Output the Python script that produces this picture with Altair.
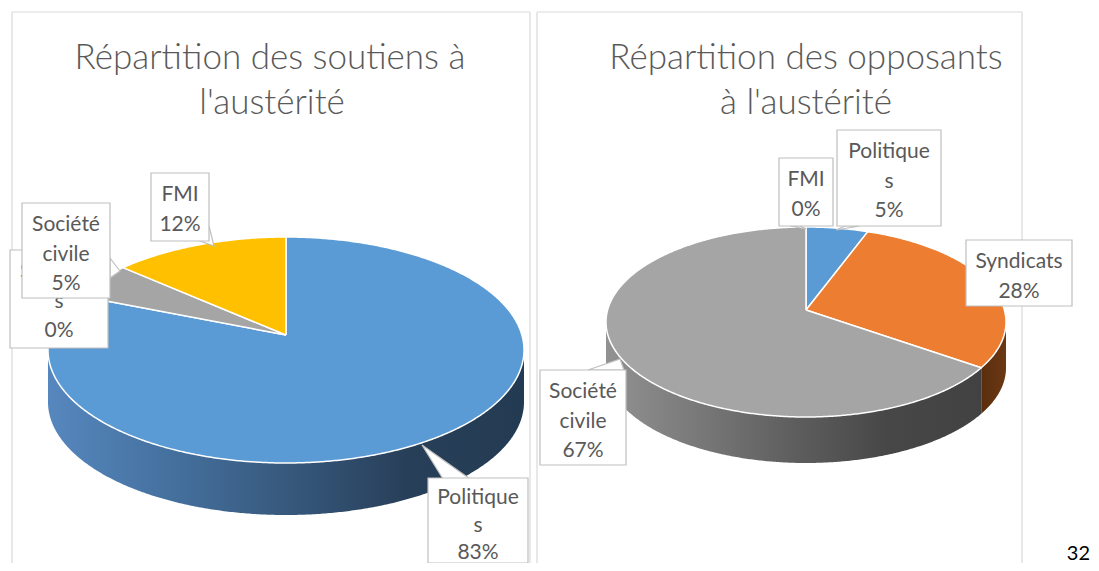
import altair as alt
import pandas as pd
import numpy as np

# ---------------- data ----------------
categories = ["Politiques", "Syndicats", "Société civile", "FMI"]
soutiens = [83, 0, 5, 12]
opposants = [5, 28, 67, 0]
palette = ["#5b9bd5", "#ed7d31", "#a5a5a5", "#ffc000"]

title_soutiens = ["Répartition des soutiens à", "l'austérité"]
title_opposants = ["Répartition des opposants", "à l'austérité"]
page_number = "32"

# ---------------- layout (pixels of the page) ----------------
PIES = {
    "soutiens": dict(values=soutiens, cx=286, cy=350, a=238, b=113, depth=52, apex=-15),
    "opposants": dict(values=opposants, cx=806, cy=322, a=200, b=95, depth=46, apex=-12),
}
WALL_GRADIENTS = {
    ("soutiens", "Politiques"): ["#5687be", "#45719f", "#37597d", "#283f59", "#233b52"],
    ("opposants", "Société civile"): ["#929292", "#787878", "#5e5e5e", "#474747", "#424242"],
    ("opposants", "Syndicats"): ["#5a2d0e", "#5e300f", "#633311", "#673512", "#6b3813"],
}
TITLE_POS = {"soutiens": [(270, 58), (272, 103)], "opposants": [(806, 58), (806, 103)]}
# callout boxes: panel, category, wrapped name lines, box (x1, y1, x2, y2), pointer triangle, tier,
# first line offset, line spacing
LABELS = [
    ("soutiens", "Syndicats", ["Syndicat", "s"], (10, 250, 108, 348), None, 0, 22, 29.5),
    ("soutiens", "Société civile", ["Société", "civile"], (22, 203, 110, 298),
     [(110, 258), (120, 271), (110, 278)], 1, 22, 29.5),
    ("soutiens", "FMI", ["FMI"], (151, 173, 209, 241), [(209, 226), (214, 246), (200, 241)], 1, 22, 29.5),
    ("soutiens", "Politiques", ["Politique", "s"], (428, 478, 528, 610),
     [(443, 479), (422, 445), (470, 479)], 1, 20, 27.5),
    ("opposants", "FMI", ["FMI"], (779, 158, 833, 226), [(790, 226), (806, 229), (800, 226)], 1, 22, 29.5),
    ("opposants", "Politiques", ["Politique", "s"], (837, 130, 941, 226),
     [(845, 226), (836, 230), (860, 226)], 1, 22, 29.5),
    ("opposants", "Syndicats", ["Syndicats"], (966, 240, 1072, 306), None, 1, 22, 29.5),
    ("opposants", "Société civile", ["Société", "civile"], (540, 370, 626, 465),
     [(588, 370), (620, 359), (624, 370)], 1, 22, 29.5),
]
FRAMES_V = [(12, 12, 563), (530, 12, 563), (537, 12, 563), (1022, 12, 563)]
FRAMES_H = [(12, 530, 12), (537, 1022, 12)]

FONT = "Lato"
TXT = "#595959"

X0, X1, Y0, Y1 = 8, 1091, 8, 563


def X(f):
    return alt.X(f"{f}:Q", scale=alt.Scale(domain=[X0, X1], nice=False, zero=False), axis=None)


def Y(f):
    return alt.Y(f"{f}:Q", scale=alt.Scale(domain=[Y0, Y1], nice=False, zero=False, reverse=True), axis=None)


def ell(g, t):
    r = np.radians(t)
    return g["cx"] + g["a"] * np.sin(r), g["cy"] - g["b"] * np.cos(r)


top_rows, wall_rows = [], []
for name, g in PIES.items():
    vals = g["values"]
    tot = float(sum(vals))
    start = 0.0
    apex = (g["cx"], g["cy"] + g["apex"])
    for cat, v in zip(categories, vals):
        span = 360.0 * v / tot
        end = start + span
        key = f"{name}|{cat}"
        if span > 0:
            angs = np.linspace(start, end, max(int(span * 2), 2) + 1)
            pts = [apex] + [ell(g, t) for t in angs] + [apex]
            for i, (x, y) in enumerate(pts):
                top_rows.append(dict(key=key, cat=cat, i=i, x=x, y=y))
            lo, hi = max(start, 90.0), min(end, 270.0)
            if hi > lo:
                wa = np.linspace(lo, hi, max(int((hi - lo) * 2), 2) + 1)
                up = [ell(g, t) for t in wa]
                down = [(x, y + g["depth"]) for x, y in up[::-1]]
                for i, (x, y) in enumerate(up + down + [up[0]]):
                    wall_rows.append(dict(key=key, cat=cat, i=i, x=x, y=y))
        start = end

top_df = pd.DataFrame(top_rows)
wall_df = pd.DataFrame(wall_rows)

layers = []

# frames
fv = pd.DataFrame(FRAMES_V, columns=["x", "y1", "y2"])
fh = pd.DataFrame(FRAMES_H, columns=["x1", "x2", "y"])
layers.append(alt.Chart(fv).mark_rule(color="#d9d9d9", strokeWidth=1.2, clip=True).encode(
    x=X("x"), y=Y("y1"), y2="y2"))
layers.append(alt.Chart(fh).mark_rule(color="#d9d9d9", strokeWidth=1.2, clip=True).encode(
    x=X("x1"), x2="x2", y=Y("y")))

# walls with gradients
for (name, cat), cols in WALL_GRADIENTS.items():
    key = f"{name}|{cat}"
    sub = wall_df[wall_df.key == key]
    if sub.empty:
        continue
    grad = alt.Gradient(
        gradient="linear", x1=0, x2=1, y1=0, y2=0,
        stops=[alt.GradientStop(offset=k / (len(cols) - 1), color=c) for k, c in enumerate(cols)])
    layers.append(alt.Chart(sub).mark_line(fill=grad, strokeOpacity=0, interpolate="linear").encode(
        x=X("x"), y=Y("y"), order=alt.Order("i:Q"), detail="key:N"))

# top faces
layers.append(alt.Chart(top_df).mark_line(filled=True, stroke="white", strokeWidth=1.5,
                                          strokeJoin="round").encode(
    x=X("x"), y=Y("y"), order=alt.Order("i:Q"), detail="key:N",
    fill=alt.Fill("cat:N", scale=alt.Scale(domain=categories, range=palette), legend=None)))

# titles
trows = []
for name, lines in (("soutiens", title_soutiens), ("opposants", title_opposants)):
    for (x, y), t in zip(TITLE_POS[name], lines):
        trows.append(dict(x=x, y=y, t=t))
layers.append(alt.Chart(pd.DataFrame(trows)).mark_text(
    font=FONT, fontSize=35, fontWeight=300, color=TXT, align="center", baseline="middle").encode(
    x=X("x"), y=Y("y"), text="t:N"))

# callouts
for tier in (0, 1):
    ptr_rows, box_rows, txt_rows = [], [], []
    for li, (name, cat, wrap, box, ptr, tr, off, lh) in enumerate(LABELS):
        if tr != tier:
            continue
        v = PIES[name]["values"][categories.index(cat)]
        x1, y1, x2, y2 = box
        box_rows.append(dict(x1=x1, y1=y1, x2=x2, y2=min(y2, Y1)))
        lines = wrap + [f"{v}%"]
        for k, t in enumerate(lines):
            txt_rows.append(dict(x=(x1 + x2) / 2, y=y1 + off + k * lh, t=t))
        if ptr:
            for k, (px, py) in enumerate(ptr + [ptr[0]]):
                ptr_rows.append(dict(key=li, i=k, x=px, y=py))
    if ptr_rows:
        layers.append(alt.Chart(pd.DataFrame(ptr_rows)).mark_line(
            fill="white", stroke="#bfbfbf", strokeWidth=1.2).encode(
            x=X("x"), y=Y("y"), order=alt.Order("i:Q"), detail="key:N"))
    bdf = pd.DataFrame(box_rows)
    layers.append(alt.Chart(bdf).mark_rect(fill="white", stroke="#bfbfbf", strokeWidth=1.2,
                                           clip=True).encode(
        x=X("x1"), x2="x2", y=Y("y1"), y2="y2"))
    layers.append(alt.Chart(pd.DataFrame(txt_rows)).mark_text(
        font=FONT, fontSize=21, color=TXT, align="center", baseline="middle", clip=True).encode(
        x=X("x"), y=Y("y"), text="t:N"))

# page number
layers.append(alt.Chart(pd.DataFrame([dict(x=1090, y=554, t=page_number)])).mark_text(
    font=FONT, fontSize=20, color="black", align="right", baseline="middle", clip=True).encode(
    x=X("x"), y=Y("y"), text="t:N"))

chart = alt.layer(*layers).properties(width=X1 - X0, height=Y1 - Y0, padding=0).configure_view(
    stroke=None)

chart.save("out.html", embed_options={"renderer": "svg", "actions": False})
